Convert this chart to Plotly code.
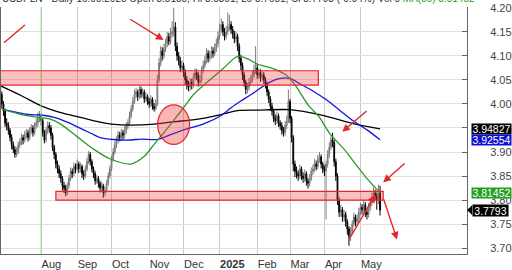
import plotly.graph_objects as go
import pandas as pd

# ---------------- data ----------------
start_date = "2024-06-27"

closes = [4.020,4.000,3.985,3.960,3.955,3.945,3.930,3.915,3.905,3.895,
          3.900,3.915,3.920,3.930,3.925,3.935,3.940,3.930,3.945,3.950,
          3.940,3.955,3.960,3.970,3.975,3.965,3.940,3.925,3.945,3.955,
          3.950,3.935,3.910,3.895,3.875,3.865,3.855,3.845,3.830,3.825,
          3.815,3.830,3.845,3.860,3.855,3.870,3.865,3.875,3.865,3.870,
          3.855,3.850,3.865,3.880,3.895,3.880,3.865,3.855,3.840,3.845,
          3.835,3.825,3.830,3.815,3.820,3.835,3.850,3.865,3.885,3.900,
          3.915,3.925,3.935,3.930,3.940,3.935,3.945,3.955,3.960,3.975,
          3.990,4.005,4.020,4.025,4.015,4.030,4.020,4.025,4.010,4.015,
          4.005,4.000,4.010,3.995,3.990,4.000,4.050,4.085,4.110,4.100,
          4.115,4.125,4.140,4.130,4.145,4.150,4.160,4.120,4.100,4.090,
          4.075,4.080,4.065,4.050,4.040,4.035,4.045,4.040,4.055,4.065,
          4.060,4.045,4.050,4.070,4.080,4.090,4.105,4.095,4.100,4.110,
          4.105,4.115,4.125,4.140,4.155,4.165,4.150,4.140,4.150,4.160,
          4.165,4.155,4.145,4.135,4.140,4.120,4.095,4.080,4.060,4.045,
          4.030,4.035,4.045,4.050,4.060,4.070,4.075,4.060,4.065,4.055,
          4.060,4.050,4.040,4.025,4.010,3.995,3.985,3.970,3.965,3.975,
          3.960,3.955,3.945,3.940,3.955,3.965,4.005,3.970,3.930,3.875,
          3.860,3.855,3.850,3.865,3.850,3.845,3.855,3.840,3.835,3.845,
          3.860,3.865,3.875,3.870,3.885,3.890,3.875,3.865,3.860,3.875,
          3.895,3.910,3.925,3.920,3.880,3.850,3.800,3.775,3.780,3.765,
          3.770,3.755,3.740,3.725,3.735,3.750,3.765,3.755,3.760,3.775,
          3.785,3.780,3.790,3.775,3.770,3.785,3.795,3.805,3.815,3.810,
          3.800,3.815,3.7793]

opens = [4.035,4.020,4.000,3.985,3.960,3.955,3.945,3.930,3.915,3.905,
         3.895,3.900,3.915,3.920,3.930,3.925,3.935,3.940,3.930,3.945,
         3.950,3.940,3.955,3.960,3.970,3.975,3.965,3.940,3.925,3.945,
         3.955,3.950,3.935,3.910,3.895,3.875,3.865,3.855,3.845,3.830,
         3.825,3.815,3.830,3.845,3.860,3.855,3.870,3.865,3.875,3.865,
         3.870,3.855,3.850,3.865,3.880,3.895,3.880,3.865,3.855,3.840,
         3.845,3.835,3.825,3.830,3.815,3.820,3.835,3.850,3.865,3.885,
         3.900,3.915,3.925,3.935,3.930,3.940,3.935,3.945,3.955,3.960,
         3.975,3.990,4.005,4.020,4.025,4.015,4.030,4.020,4.025,4.010,
         4.015,4.005,4.000,4.010,3.995,3.990,4.000,4.050,4.085,4.110,
         4.100,4.115,4.125,4.140,4.130,4.145,4.150,4.160,4.120,4.100,
         4.090,4.075,4.080,4.065,4.050,4.040,4.035,4.045,4.040,4.055,
         4.065,4.060,4.045,4.050,4.070,4.080,4.090,4.105,4.095,4.100,
         4.110,4.105,4.115,4.125,4.140,4.155,4.165,4.150,4.140,4.150,
         4.160,4.165,4.155,4.145,4.135,4.140,4.120,4.095,4.080,4.060,
         4.045,4.030,4.035,4.045,4.050,4.060,4.070,4.075,4.060,4.065,
         4.055,4.060,4.050,4.040,4.025,4.010,3.995,3.985,3.970,3.965,
         3.975,3.960,3.955,3.945,3.940,3.955,3.965,4.005,3.970,3.930,
         3.875,3.860,3.855,3.850,3.865,3.850,3.845,3.855,3.840,3.835,
         3.845,3.860,3.865,3.875,3.870,3.885,3.890,3.875,3.865,3.860,
         3.875,3.895,3.910,3.925,3.920,3.880,3.850,3.800,3.775,3.780,
         3.765,3.770,3.755,3.740,3.725,3.735,3.750,3.765,3.755,3.760,
         3.775,3.785,3.780,3.790,3.775,3.770,3.785,3.795,3.805,3.815,
         3.810,3.800,3.815]

highs = [4.042,4.026,4.006,3.990,3.970,3.962,3.950,3.937,3.922,3.912,
         3.910,3.922,3.928,3.938,3.936,3.944,3.948,3.946,3.952,3.958,
         3.956,3.962,3.970,3.982,3.985,3.980,3.970,3.946,3.952,3.964,
         3.962,3.956,3.940,3.915,3.900,3.882,3.872,3.862,3.850,3.838,
         3.832,3.836,3.852,3.868,3.866,3.878,3.876,3.884,3.880,3.878,
         3.874,3.862,3.872,3.888,3.902,3.900,3.885,3.870,3.860,3.852,
         3.850,3.840,3.838,3.834,3.828,3.842,3.858,3.872,3.892,3.908,
         3.922,3.932,3.944,3.942,3.948,3.946,3.954,3.962,3.968,3.984,
         3.998,4.014,4.030,4.034,4.030,4.038,4.036,4.032,4.030,4.024,
         4.020,4.012,4.018,4.014,4.002,4.010,4.060,4.095,4.120,4.118,
         4.125,4.136,4.150,4.148,4.158,4.172,4.200,4.170,4.128,4.108,
         4.098,4.090,4.086,4.072,4.058,4.048,4.054,4.052,4.064,4.074,
         4.072,4.066,4.060,4.078,4.090,4.100,4.116,4.112,4.110,4.120,
         4.118,4.126,4.136,4.150,4.166,4.178,4.172,4.158,4.162,4.190,
         4.185,4.172,4.162,4.152,4.150,4.146,4.126,4.102,4.086,4.066,
         4.050,4.044,4.054,4.060,4.070,4.082,4.120,4.084,4.074,4.072,
         4.068,4.066,4.056,4.046,4.030,4.016,4.002,3.990,3.978,3.984,
         3.980,3.966,3.962,3.952,3.964,3.976,4.030,4.010,3.975,3.935,
         3.882,3.870,3.862,3.874,3.870,3.858,3.864,3.860,3.846,3.854,
         3.868,3.874,3.886,3.882,3.894,3.900,3.895,3.880,3.872,3.882,
         3.904,3.920,3.935,3.940,3.926,3.886,3.856,3.806,3.790,3.786,
         3.780,3.776,3.760,3.746,3.744,3.758,3.774,3.770,3.770,3.784,
         3.794,3.792,3.800,3.796,3.782,3.794,3.804,3.816,3.826,3.822,
         3.816,3.832,3.830]

lows = [4.012,3.990,3.975,3.952,3.945,3.936,3.922,3.906,3.898,3.888,
        3.890,3.895,3.908,3.914,3.916,3.920,3.928,3.922,3.925,3.938,
        3.932,3.935,3.948,3.952,3.962,3.955,3.932,3.918,3.920,3.938,
        3.940,3.926,3.902,3.885,3.866,3.856,3.846,3.836,3.820,3.815,
        3.808,3.810,3.824,3.840,3.846,3.850,3.856,3.860,3.856,3.858,
        3.846,3.842,3.846,3.860,3.875,3.872,3.858,3.846,3.832,3.834,
        3.826,3.816,3.818,3.805,3.808,3.816,3.830,3.845,3.860,3.880,
        3.895,3.908,3.918,3.922,3.924,3.926,3.928,3.938,3.948,3.955,
        3.970,3.984,4.000,4.012,4.006,4.010,4.012,4.014,4.002,4.004,
        3.998,3.992,3.994,3.988,3.984,3.986,3.996,4.044,4.078,4.090,
        4.094,4.108,4.118,4.122,4.124,4.138,4.140,4.110,4.090,4.080,
        4.066,4.068,4.056,4.040,4.030,4.026,4.028,4.030,4.034,4.048,
        4.050,4.036,4.038,4.044,4.064,4.074,4.084,4.086,4.088,4.094,
        4.096,4.100,4.108,4.118,4.134,4.148,4.142,4.132,4.134,4.144,
        4.152,4.146,4.136,4.126,4.128,4.110,4.086,4.070,4.050,4.036,
        4.020,4.022,4.028,4.038,4.044,4.054,4.062,4.052,4.052,4.046,
        4.048,4.042,4.032,4.016,4.002,3.986,3.976,3.962,3.956,3.958,
        3.952,3.946,3.936,3.932,3.934,3.948,3.960,3.960,3.920,3.860,
        3.848,3.845,3.840,3.844,3.842,3.836,3.838,3.830,3.824,3.828,
        3.840,3.852,3.858,3.862,3.864,3.878,3.866,3.856,3.850,3.760,
        3.868,3.888,3.904,3.910,3.870,3.840,3.790,3.765,3.766,3.755,
        3.756,3.745,3.728,3.705,3.715,3.728,3.744,3.746,3.748,3.754,
        3.768,3.770,3.772,3.765,3.760,3.764,3.778,3.788,3.798,3.800,
        3.780,3.792,3.768]

# moving averages (bar number, value)
ma50_bar = [2,13,23,31,37,47,57,67,80,88,94,100,106,112,118,127,136,145,151,
            157,167,175,181,188,195,201,211,217,223,229,232]
ma50_val = [3.988,3.978,3.972,3.968,3.958,3.932,3.906,3.886,3.875,3.891,3.916,
            3.940,3.966,3.992,4.019,4.047,4.073,4.099,4.094,4.083,4.073,4.059,
            4.035,3.998,3.972,3.940,3.902,3.875,3.849,3.826,3.8145]
ma100_bar = [2,17,25,33,41,51,56,61,69,80,86,96,104,114,124,135,141,147,153,
             159,165,171,177,183,191,199,208,216,224,232]
ma100_val = [3.988,3.978,3.977,3.972,3.962,3.946,3.938,3.930,3.926,3.925,3.927,
             3.926,3.936,3.948,3.958,3.976,3.992,4.006,4.019,4.033,4.046,4.053,
             4.053,4.042,4.027,4.009,3.985,3.964,3.946,3.9255]
ma200_bar = [0,13,25,37,49,61,68,80,94,104,115,124,135,145,157,177,197,217,232]
ma200_val = [4.038,4.017,3.996,3.982,3.972,3.962,3.958,3.956,3.958,3.962,3.966,
             3.970,3.978,3.986,3.987,3.988,3.976,3.958,3.9483]

tick_months = ["2024-08","2024-09","2024-10","2024-11","2024-12",
               "2025-01","2025-02","2025-03","2025-04","2025-05"]
tick_labels = ["Aug","Sep","Oct","Nov","Dec","<b>2025</b>","Feb","Mar","Apr","May"]

last_labels = [("3.94827", 3.94827, "#000000"),
               ("3.92554", 3.92554, "#1010d0"),
               ("3.81452", 3.81452, "#22a022")]
last_close_label = "3.7793"

resistance_zone = [4.039, 4.069]
support_zone = [3.800, 3.818]

header_text = ("USDPLN - Daily 16.05.2025 Open 3.8150, Hi 3.8301, Lo 3.7681, Cl 3.7793 (-0.94%) Vol 0 "
               "<span style='color:#2a9a2a'>MA(50) 3.81452</span>")

# ---------------- figure ----------------
bars = list(range(len(closes)))
dates = pd.bdate_range(start_date, periods=len(closes))
month_keys = list(dates.strftime("%Y-%m"))
tick_vals = [bars[month_keys.index(m)] for m in tick_months]

RED = "#e3262a"
FONT = "Liberation Sans, Arial"
fig = go.Figure()

fig.add_trace(go.Candlestick(
    x=bars, open=opens, high=highs, low=lows, close=closes,
    increasing=dict(line=dict(color="#7a7a7a", width=1), fillcolor="#9a9a9a"),
    decreasing=dict(line=dict(color="#000000", width=1), fillcolor="#000000"),
    whiskerwidth=0, showlegend=False, hoverinfo="skip"))

for bx, vals, col in [(ma200_bar, ma200_val, "#000000"),
                      (ma100_bar, ma100_val, "#1414e0"),
                      (ma50_bar, ma50_val, "#2a9a2a")]:
    fig.add_trace(go.Scatter(x=bx, y=vals, mode="lines",
                             line=dict(color=col, width=1.3, shape="spline", smoothing=0.8),
                             showlegend=False, hoverinfo="skip"))

shapes = []
shapes.append(dict(type="line", xref="x", yref="paper", x0=tick_vals[0], x1=tick_vals[0],
                   y0=0, y1=1, line=dict(color="#8fe08f", width=1), layer="above"))
shapes.append(dict(type="rect", xref="x", yref="y", x0=-3, x1=194.3,
                   y0=resistance_zone[0], y1=resistance_zone[1],
                   fillcolor="rgba(240,60,60,0.33)", line=dict(color=RED, width=1.2), layer="above"))
shapes.append(dict(type="rect", xref="x", yref="y", x0=34, x1=233.9,
                   y0=support_zone[0], y1=support_zone[1],
                   fillcolor="rgba(240,60,60,0.33)", line=dict(color=RED, width=1.2), layer="above"))
shapes.append(dict(type="circle", xref="x", yref="y", x0=96.2, x1=115.7, y0=3.916, y1=3.998,
                   fillcolor="rgba(240,60,60,0.38)", line=dict(color=RED, width=1.2), layer="above"))
shapes.append(dict(type="line", xref="x", yref="y", x0=2.3, y0=4.127, x1=15.1, y1=4.164,
                   line=dict(color=RED, width=1.4), layer="above"))
shapes.append(dict(type="path", xref="paper", yref="y",
                   path="M 1.0,3.7793 L 1.011,3.7896 L 1.011,3.7690 Z",
                   fillcolor="#000", line=dict(width=0)))

annotations = []
arrows = [((78.5, 4.178), (99.8, 4.133)),
          ((224.7, 3.988), (208.9, 3.942)),
          ((247.9, 3.879), (233.9, 3.837)),
          ((212.6, 3.716), (229.0, 3.811)),
          ((233.9, 3.805), (242.4, 3.718))]
for (tx, ty), (hx, hy) in arrows:
    annotations.append(dict(x=hx, y=hy, ax=tx, ay=ty, xref="x", yref="y", axref="x", ayref="y",
                            text="", showarrow=True, arrowhead=2, arrowsize=1.1,
                            arrowwidth=1.4, arrowcolor=RED, standoff=0))

for txt, val, col in last_labels:
    annotations.append(dict(xref="paper", yref="y", x=1, y=val, xanchor="left", yanchor="middle",
                            xshift=4, text=txt, showarrow=False, bgcolor=col, borderpad=0,
                            height=10, width=39,
                            font=dict(color="white", size=10.5, family=FONT)))
annotations.append(dict(xref="paper", yref="y", x=1, y=closes[-1], xanchor="left", yanchor="middle",
                        xshift=5, text=last_close_label, showarrow=False, bgcolor="#000", borderpad=0,
                        height=11, width=35,
                        font=dict(color="white", size=10.5, family=FONT)))

# header (mostly cut off at the top, as in the reference)
annotations.append(dict(xref="paper", yref="paper", x=0, y=1, xanchor="left", yanchor="bottom",
                        yshift=2, showarrow=False, borderpad=0, text=header_text,
                        font=dict(size=10, color="#333", family=FONT)))

fig.update_layout(
    width=512, height=270,
    margin=dict(l=0, r=45, t=7, b=9),
    paper_bgcolor="white", plot_bgcolor="white",
    shapes=shapes, annotations=annotations,
    showlegend=False,
    font=dict(family=FONT, size=11, color="#333"),
    xaxis=dict(range=[0.5, 285.1], rangeslider=dict(visible=False),
               tickvals=tick_vals, ticktext=tick_labels,
               ticklabelposition="outside right", ticks="", showgrid=True,
               gridcolor="#c9c9c9", gridwidth=1, zeroline=False,
               showline=True, linecolor="#666", linewidth=1,
               tickfont=dict(size=11, color="#333")),
    yaxis=dict(range=[3.688, 4.2015], side="right", dtick=0.05, tick0=3.70,
               tickformat=".2f", showgrid=True, gridcolor="#e0e0e0", zeroline=False,
               showline=True, mirror=True, linecolor="#666", linewidth=1,
               ticks="inside", ticklen=5, tickcolor="#666",
               ticklabelstandoff=20, tickfont=dict(size=11, color="#444")),
)

fig.write_html("out.html")
